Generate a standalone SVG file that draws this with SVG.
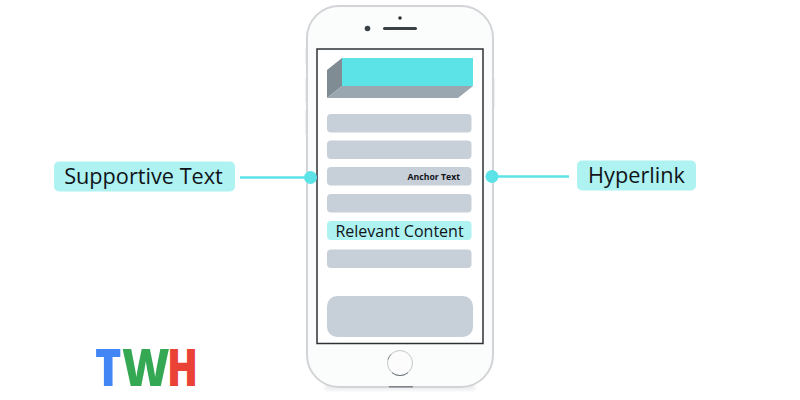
<svg xmlns="http://www.w3.org/2000/svg" width="800" height="400" viewBox="0 0 800 400">
<defs>
<filter id="soft" x="-10%" y="-100%" width="120%" height="300%"><feGaussianBlur stdDeviation="2"/></filter>
</defs>
<style>
.bar{fill:#c7cfd9}
.tag{fill:#aef2f2}
.lbl{font-family:"Open Sans","Noto Sans",sans-serif;fill:#111418}
.big{font-size:21.700px}
.conn{stroke:#5ce3e8;stroke-width:2.5;fill:none}
.dot{fill:#5ce3e8}
.logo{font-family:"Open Sans","Liberation Sans",sans-serif;font-weight:800;font-size:52px}
</style>
<rect width="800" height="400" fill="#fff"/>
<g id="phone">
<rect x="305.500" y="48" width="2" height="16" fill="#dfe1e4"/>
<rect x="305.500" y="78" width="2" height="24" fill="#dfe1e4"/>
<rect x="305.500" y="110" width="2" height="24" fill="#dfe1e4"/>
<rect x="492.500" y="78" width="2" height="30" fill="#dfe1e4"/>
<rect x="325" y="386" width="150" height="3" rx="1.500" fill="#dcdee1" filter="url(#soft)"/>
<rect x="307" y="6" width="186" height="381" rx="32" fill="#fbfcfc" stroke="#d2d4d7" stroke-width="2"/>
<rect x="389" y="386" width="24" height="1.500" fill="#7d8286"/>
<circle cx="367.500" cy="28.500" r="2.800" fill="#3a4245"/>
<circle cx="400" cy="18" r="1.800" fill="#2b3235"/>
<rect x="383" y="27" width="34" height="3" rx="1.500" fill="#3a4245"/>
<rect x="317" y="49" width="166" height="294.500" fill="#fff" stroke="#2e3235" stroke-width="1.500"/>
<circle cx="400" cy="363" r="12.500" fill="#fcfcfd" stroke="#c4c7ca" stroke-width="1"/>
<path d="M392 372.700A12.500 12.500 0 0 0 408 372.700" fill="none" stroke="#6f7478" stroke-width="1"/>
<path d="M391 354.300A12.500 12.500 0 0 0 388 359.500" fill="none" stroke="#8a8e92" stroke-width="1"/>
</g>
<g id="header-block">
<polygon points="327,70 342,58 342,86 327,98" fill="#7f8c94"/>
<polygon points="342,86 473,86 458,98 327,98" fill="#9aa6b0"/>
<rect x="342" y="58" width="131" height="28" fill="#5ce3e8"/>
</g>
<g id="content-bars">
<rect class="bar" x="327" y="114" width="144.500" height="18.500" rx="4"/>
<rect class="bar" x="327" y="140.500" width="144.500" height="18.500" rx="4"/>
<rect class="bar" x="327" y="194" width="144.500" height="18.500" rx="4"/>
<rect class="bar" x="327" y="249.500" width="144.500" height="18.500" rx="4"/>
<rect class="bar" x="327" y="296" width="146" height="41" rx="10"/>
</g>
<g id="anchor-text">
<rect class="bar" x="327" y="167" width="144.500" height="18.500" rx="4"/>
<text class="lbl" x="460" y="180.200" font-size="8.700" font-weight="700" text-anchor="end">Anchor Text</text>
</g>
<g id="relevant-content">
<rect class="tag" x="327" y="221" width="144.500" height="19" rx="4"/>
<text class="lbl" x="399.500" y="236.500" font-size="16" text-anchor="middle">Relevant Content</text>
</g>
<g id="connectors">
<line class="conn" x1="240" y1="177.500" x2="310" y2="177.500"/>
<circle class="dot" cx="310.500" cy="177.500" r="6.500"/>
<line class="conn" x1="492" y1="176.500" x2="569" y2="176.500"/>
<circle class="dot" cx="492" cy="176.500" r="6.500"/>
</g>
<g id="supportive-text">
<rect class="tag" x="54" y="161.500" width="181" height="30" rx="5"/>
<text class="lbl big" x="143.500" y="184" text-anchor="middle">Supportive Text</text>
</g>
<g id="hyperlink">
<rect class="tag" x="577" y="160.500" width="119" height="30" rx="5"/>
<text class="lbl big" x="636.500" y="183" text-anchor="middle">Hyperlink</text>
</g>
<g id="logo">
<text class="logo" transform="translate(95 386) scale(.86 1)" fill="#4285f4">T</text>
<text class="logo" transform="translate(122 386) scale(.88 1)" fill="#34a853">W</text>
<text class="logo" transform="translate(167 386) scale(.78 1)" fill="#ea4335">H</text>
</g>
</svg>
